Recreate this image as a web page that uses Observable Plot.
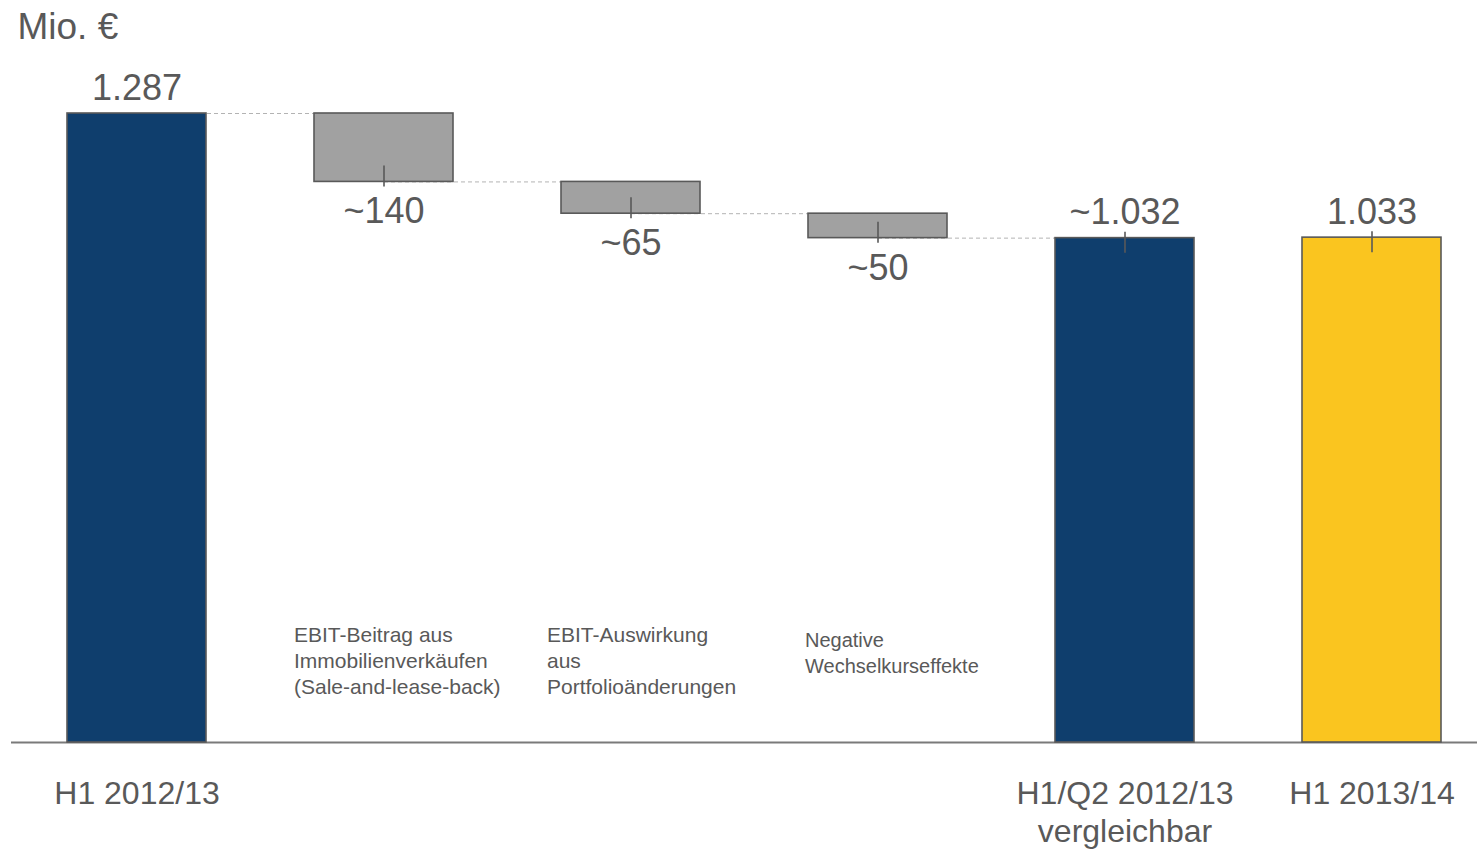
<!DOCTYPE html>
<html>
<head>
<meta charset="utf-8">
<script src="https://cdn.jsdelivr.net/npm/d3@7"></script>
<script src="https://cdn.jsdelivr.net/npm/@observablehq/plot@0.6"></script>
<style>
  html, body { margin: 0; padding: 0; background: #ffffff; }
  #chart svg { display: block; }
</style>
</head>
<body>
<div id="chart"></div>
<script>
// ---- data ----
const keys = ["start", "sale", "portfolio", "fx", "comparable", "current"];
const axisLabels = ["H1 2012/13", "", "", "", "H1/Q2 2012/13\nvergleichbar", "H1 2013/14"];
const descriptions = [
  "",
  "EBIT-Beitrag aus\nImmobilienverkäufen\n(Sale-and-lease-back)",
  "EBIT-Auswirkung\naus\nPortfolioänderungen",
  "Negative\nWechselkurseffekte",
  "",
  ""
];
const values = [1287, -140, -65, -50, 1032, 1033];
const valueLabels = ["1.287", "~140", "~65", "~50", "~1.032", "1.033"];
const kinds = ["total", "delta", "delta", "delta", "total", "total"];
const colors = ["#0f3e6d", "#a1a1a1", "#a1a1a1", "#a1a1a1", "#0f3e6d", "#fac51f"];
const unitLabel = "Mio. €";

// ---- derived table ----
let run = 0;
const rows = keys.map((k, i) => {
  let y1, y2, end;
  if (kinds[i] === "total") { y1 = 0; y2 = values[i]; run = values[i]; end = values[i]; }
  else { y1 = run; run = run + values[i]; y2 = run; end = run; }
  return {key: k, i, y1, y2, end, kind: kinds[i], label: valueLabels[i], color: colors[i], axis: axisLabels[i], desc: descriptions[i]};
});
const links = rows.slice(0, 4).map((r, i) => ({from: r.key, to: keys[i + 1], level: r.end}));
const totals = rows.filter(r => r.kind === "total");
const deltas = rows.filter(r => r.kind === "delta");
const markedTotals = totals.filter(r => r.i > 0);

const ink = "#595959";
const descStyle = {fontSize: 21, lineHeight: 1.24, textAnchor: "start", lineAnchor: "top", frameAnchor: "bottom", fill: ink};

const chart = Plot.plot({
  width: 1477,
  height: 850,
  marginLeft: 11,
  marginRight: 0,
  marginTop: 0,
  marginBottom: 108,
  x: {type: "band", domain: keys, range: [11, 1497], paddingInner: 0.438, paddingOuter: 0.216, axis: null},
  y: {domain: [0, 1287], range: [742, 113], axis: null},
  style: {fontFamily: "'Liberation Sans', Arial, sans-serif", color: ink, background: "#ffffff"},
  marks: [
    // dashed connectors (drawn behind the bars)
    Plot.link(links, {x1: "from", x2: "to", y1: "level", y2: "level", stroke: "#b3b3b3", strokeWidth: 1, strokeDasharray: "4,3"}),
    // baseline
    Plot.ruleY([0], {stroke: "#7a7a7a", strokeWidth: 2}),
    // bars
    Plot.barY(rows, {x: "key", y1: "y1", y2: "y2", fill: "color", stroke: ink, strokeWidth: 1.6}),
    // small marker ticks
    Plot.ruleX(deltas, {x: "key", y1: "end", y2: "end", insetTop: -16, insetBottom: -5, stroke: ink, strokeWidth: 1.6}),
    Plot.ruleX(markedTotals, {x: "key", y1: "end", y2: "end", insetTop: -6, insetBottom: -15, stroke: ink, strokeWidth: 1.6}),
    // value labels
    Plot.text(totals, {x: "key", y: "end", text: "label", fontSize: 36, lineAnchor: "bottom", dy: -14, fill: ink}),
    Plot.text(deltas, {x: "key", y: "end", text: "label", fontSize: 36, lineAnchor: "top", dy: 16, fill: ink}),
    // descriptions of the deltas
    Plot.text(rows.filter(r => r.i === 1), {x: "key", text: "desc", ...descStyle, dx: -90, dy: -119}),
    Plot.text(rows.filter(r => r.i === 2), {x: "key", text: "desc", ...descStyle, dx: -84, dy: -119}),
    Plot.text(rows.filter(r => r.i === 3), {x: "key", text: "desc", ...descStyle, fontSize: 20, lineHeight: 1.3, dx: -73, dy: -114}),
    // category labels under the axis
    Plot.text(rows, {x: "key", text: "axis", frameAnchor: "bottom", lineAnchor: "top", fontSize: 32, lineHeight: 1.19, dy: 34, fill: ink}),
    // unit
    Plot.text([unitLabel], {frameAnchor: "top-left", text: d => d, textAnchor: "start", lineAnchor: "top", fontSize: 37, dx: 6, dy: 12, fill: ink})
  ]
});
document.getElementById("chart").append(chart);
</script>
</body>
</html>
